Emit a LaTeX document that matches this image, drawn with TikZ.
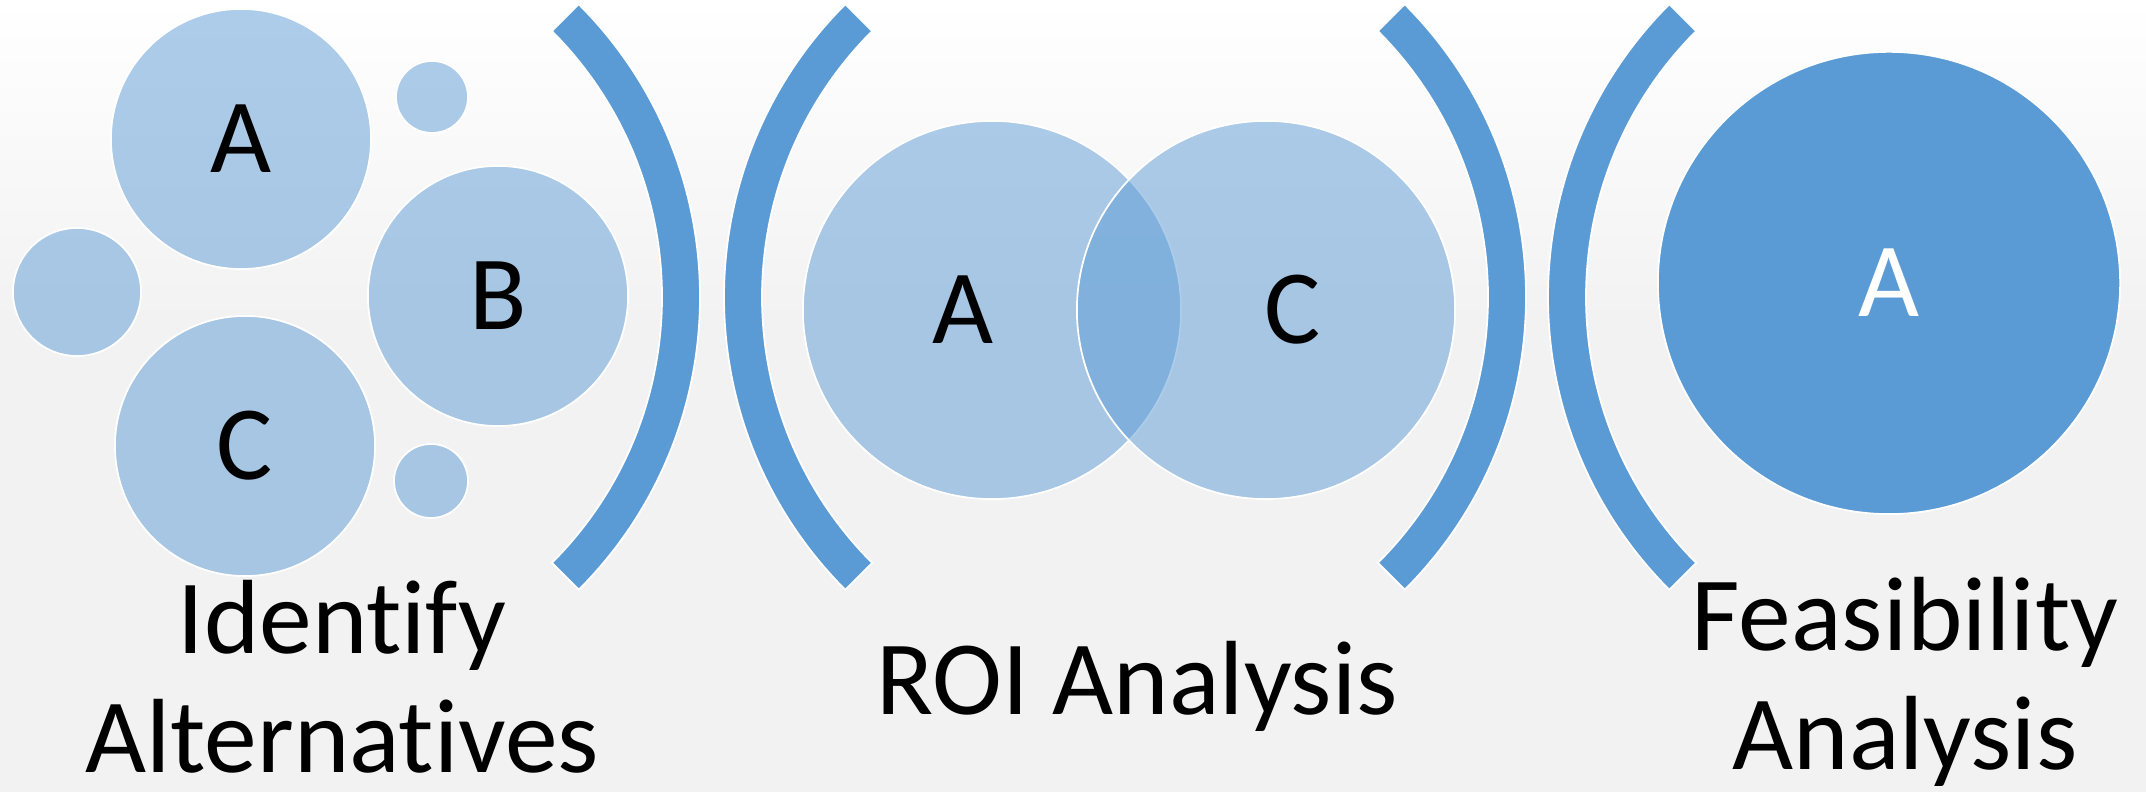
\documentclass[tikz,border=0pt]{standalone}
\usepackage{fontspec}
\setmainfont{Carlito}[Ligatures=NoCommon]
\usepackage{tikz}
\usetikzlibrary{positioning}
\definecolor{accent}{HTML}{5B9BD5}
\definecolor{bggray}{HTML}{F2F2F2}

\begin{document}
\begin{tikzpicture}
        [x=0.01cm,y=0.01cm,
         every node/.style={font=\fontsize{30}{34}\selectfont,inner sep=0pt},
         bubble/.style={circle,draw=white,line width=0.5pt,fill=accent,fill opacity=0.5,text opacity=1},
         brk/.style={fill=accent,draw=white,line width=0.5pt},
         caption/.style={align=center,anchor=base}]
        \useasboundingbox (0,0) rectangle (2146,792);
        \fill[bggray] (0,0) rectangle (2146,792);
        \shade[top color=white,bottom color=bggray] (0,470) rectangle (2146,792);

        \node[bubble,minimum size=2.6cm] (altA) at (241,653) {A};
        \node[bubble,minimum size=2.6cm] (altB) at (498,496) {B};
        \node[bubble,minimum size=2.6cm] (altC) at (245,346) {C};
        \node[bubble,minimum size=1.28cm] (dotL) at (77,500) {};
        \node[bubble,minimum size=0.72cm] (dotT) at (432,695) {};
        \node[bubble,minimum size=0.74cm] (dotB) at (431,311) {};

        \node[bubble,minimum size=3.78cm] (roiA) at (992,482) {};
        \node[bubble,minimum size=3.78cm] (roiC) at (1266,482) {};
        \node (labA) at ([xshift=-0.29cm]roiA.center) {A};
        \node (labC) at ([xshift=0.27cm]roiC.center) {C};

        \node[circle,draw=white,line width=0.5pt,fill=accent,text=white,minimum size=4.62cm] (feaA) at (1889,509) {A};

        \foreach \cx/\d in {286/0, 1138/180, 1112/0, 1962/180}
            \draw[brk] (\cx,495) ++(\d+45:414) arc[start angle=\d+45, end angle=\d-45, radius=414]
                -- ++(\d+135:38) arc[start angle=\d-45, end angle=\d+45, radius=376] -- cycle;

        \node[caption] (step1) at (342,19) {Identify\\Alternatives};
        \node[caption] (step2) at (1137,77) {ROI Analysis};
        \node[caption] (step3) at (1905,22) {Feasibility\\Analysis};

      \end{tikzpicture}
\end{document}
